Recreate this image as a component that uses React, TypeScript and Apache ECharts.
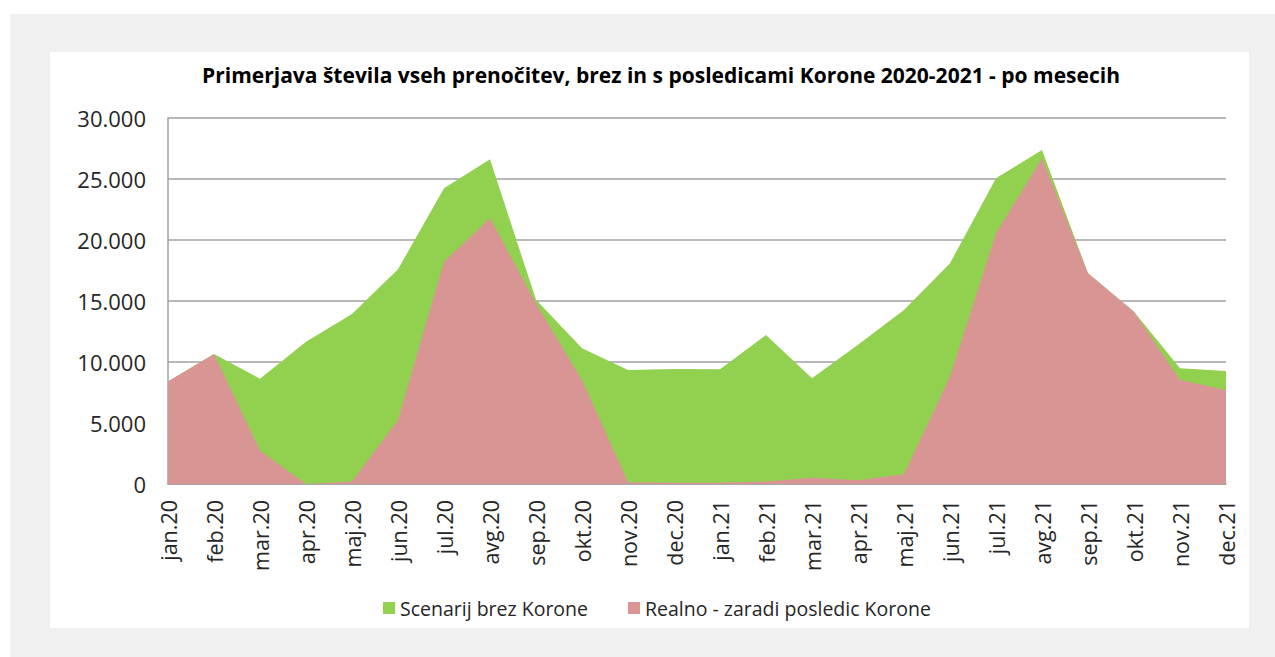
import React, { useEffect, useRef } from "react";
import * as echarts from "echarts";

const categories = [
  "jan.20", "feb.20", "mar.20", "apr.20", "maj.20", "jun.20", "jul.20", "avg.20", "sep.20", "okt.20", "nov.20", "dec.20",
  "jan.21", "feb.21", "mar.21", "apr.21", "maj.21", "jun.21", "jul.21", "avg.21", "sep.21", "okt.21", "nov.21", "dec.21",
];

const scenarijBrezKorone = [
  8400, 10650, 8630, 11670, 13930, 17600, 24240, 26610, 15100, 11120, 9340, 9430,
  9400, 12210, 8660, 11420, 14260, 18090, 25060, 27380, 17270, 14120, 9480, 9260,
];

const realno = [
  8400, 10650, 2730, 0, 200, 5250, 18220, 21780, 14800, 8500, 150, 100,
  100, 200, 520, 300, 800, 8800, 20550, 26700, 17270, 14120, 8520, 7700,
];

const yTicks = { min: 0, max: 30000, interval: 5000 };

const title = "Primerjava števila vseh prenočitev, brez in s posledicami Korone 2020-2021 - po mesecih";
const seriesNames = ["Scenarij brez Korone", "Realno - zaradi posledic Korone"];

const FONT = "'Open Sans', sans-serif";

export default function App() {
  const ref = useRef<HTMLDivElement>(null);
  useEffect(() => {
    if (!ref.current) return;
    const chart = echarts.init(ref.current, undefined, { renderer: "svg" });
    const fmt = (v: number) => {
      const s = String(Math.round(v));
      return s.replace(/\B(?=(\d{3})+(?!\d))/g, ".");
    };
    chart.setOption({
      animation: false,
      backgroundColor: "#ffffff",
      graphic: [
        { type: "rect", z: -10, silent: true, shape: { x: 10, y: 14, width: 1265, height: 643 }, style: { fill: "#f0f0f0" } },
        { type: "rect", z: -9, silent: true, shape: { x: 50, y: 52, width: 1199, height: 576 }, style: { fill: "#ffffff" } },
      ],
      title: {
        text: title,
        left: 656,
        textAlign: "center",
        top: 59,
        textStyle: { fontFamily: FONT, fontWeight: "bold", fontSize: 21, color: "#000000" },
      },
      legend: {
        data: seriesNames,
        top: 593,
        left: 378,
        itemWidth: 12,
        itemHeight: 12,
        itemGap: 40,
        icon: "rect",
        textStyle: { fontFamily: FONT, fontSize: 19.5, color: "#262626" },
      },
      grid: { left: 168, right: 49, top: 118, bottom: 173, containLabel: false },
      xAxis: {
        type: "category",
        data: categories,
        boundaryGap: false,
        axisLine: { lineStyle: { color: "#a0a0a0", width: 1.5 } },
        axisTick: { show: false },
        axisLabel: { rotate: 90, fontFamily: FONT, fontSize: 21.5, color: "#262626", margin: 16, interval: 0 },
        splitLine: { show: false },
      },
      yAxis: {
        type: "value",
        min: yTicks.min,
        max: yTicks.max,
        interval: yTicks.interval,
        axisLine: { show: true, lineStyle: { color: "#a0a0a0", width: 1.5 } },
        axisTick: { show: false },
        axisLabel: { fontFamily: FONT, fontSize: 22, color: "#262626", margin: 22, formatter: fmt },
        splitLine: { lineStyle: { color: "#a0a0a0", width: 1.5 } },
      },
      series: [
        {
          name: seriesNames[0],
          type: "line",
          data: scenarijBrezKorone,
          symbol: "none",
          lineStyle: { width: 0 },
          itemStyle: { color: "#92d050" },
          areaStyle: { color: "#92d050", opacity: 1 },
          z: 2,
        },
        {
          name: seriesNames[1],
          type: "line",
          data: realno,
          symbol: "none",
          lineStyle: { width: 0 },
          itemStyle: { color: "#d99594" },
          areaStyle: { color: "#d99594", opacity: 1 },
          z: 3,
        },
      ],
    });
    return () => chart.dispose();
  }, []);
  return (
    <div style={{ position: "absolute", left: 0, top: 0, width: 1275, height: 657 }}>
      <div ref={ref} style={{ width: 1275, height: 657 }} />
    </div>
  );
}
